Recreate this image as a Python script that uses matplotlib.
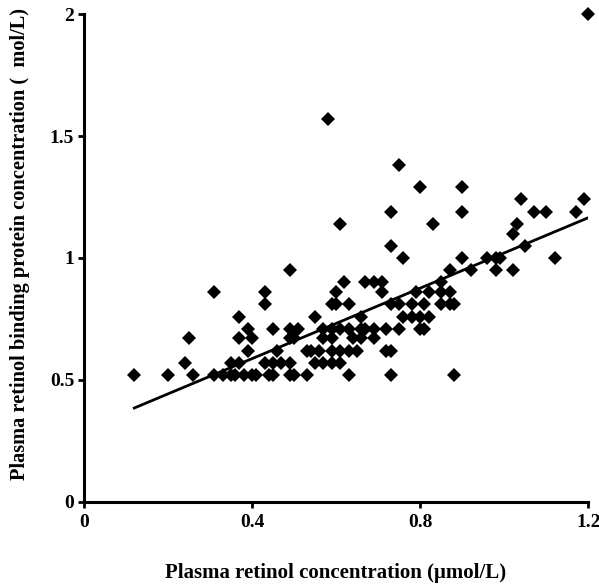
import numpy as np
import matplotlib
matplotlib.use("Agg")
import matplotlib.pyplot as plt

# retinol (x) values grouped by the RBP (y) level they sit on
rows = {
    0.52: [0.12, 0.20, 0.26, 0.31, 0.33, 0.35, 0.36, 0.38, 0.40, 0.41, 0.44, 0.45, 0.49, 0.50, 0.53, 0.63, 0.73, 0.88],
    0.57: [0.24, 0.35, 0.37, 0.43, 0.45, 0.47, 0.49, 0.55, 0.57, 0.59, 0.61],
    0.62: [0.39, 0.46, 0.53, 0.54, 0.56, 0.59, 0.61, 0.63, 0.65, 0.72, 0.73],
    0.67: [0.25, 0.37, 0.40, 0.49, 0.50, 0.57, 0.59, 0.64, 0.66, 0.69],
    0.71: [0.39, 0.45, 0.49, 0.51, 0.57, 0.59, 0.61, 0.63, 0.66, 0.67, 0.69, 0.72, 0.75, 0.80, 0.81],
    0.76: [0.37, 0.55, 0.66, 0.76, 0.78, 0.80, 0.82],
    0.81: [0.43, 0.59, 0.60, 0.63, 0.73, 0.75, 0.78, 0.81, 0.85, 0.87, 0.88],
    0.86: [0.31, 0.43, 0.60, 0.71, 0.79, 0.82, 0.85, 0.87],
    0.90: [0.62, 0.67, 0.69, 0.71, 0.85],
    0.95: [0.49, 0.87, 0.92, 0.98, 1.02],
    1.00: [0.76, 0.90, 0.96, 0.98, 0.99, 1.12],
    1.05: [0.73, 1.05],
    1.10: [1.02],
    1.14: [0.61, 0.83, 1.03],
    1.19: [0.73, 0.90, 1.07, 1.10, 1.17],
    1.24: [1.04, 1.19],
    1.29: [0.80, 0.90],
    1.38: [0.75],
    1.57: [0.58],
    2.00: [1.20],
}

retinol = []
rbp = []
for level, xs in rows.items():
    retinol += xs
    rbp += [level] * len(xs)

# regression line end points
fit_x = [0.12, 1.20]
fit_y = [0.385, 1.165]

xticks = [0, 0.4, 0.8, 1.2]
xticklabels = ["0", "0.4", "0.8", "1.2"]
yticks = [0, 0.5, 1, 1.5, 2]
yticklabels = ["0", "0.5", "1", "1.5", "2"]

plt.rcParams['font.family'] = ['Liberation Serif', 'DejaVu Serif']
plt.rcParams['font.weight'] = 'bold'

fig = plt.figure(figsize=(5.99, 5.85), dpi=100)
ax = fig.add_axes([0.140, 0.142, 0.842, 0.834])

ax.plot(retinol, rbp, linestyle='none', marker='D', markersize=7,
        color='black', markeredgewidth=0, clip_on=False)
ax.plot(fit_x, fit_y, color='black', linewidth=2)

ax.set_xlim(0, 1.2)
ax.set_ylim(0, 2)
ax.set_xticks(xticks)
ax.set_xticklabels(xticklabels)
ax.set_yticks(yticks)
ax.set_yticklabels(yticklabels)

for s in ['top', 'right']:
    ax.spines[s].set_visible(False)
for s in ['left', 'bottom']:
    ax.spines[s].set_linewidth(2.2)
ax.tick_params(axis='both', direction='out', length=4, width=2,
               labelsize=14, pad=3)
ax.tick_params(axis='x', pad=5)

ax.set_xlabel("Plasma retinol concentration (\u03bcmol/L)", fontsize=15,
              fontweight='bold', labelpad=23)
ax.set_ylabel("Plasma retinol binding protein concentration (  mol/L)",
              fontsize=14.7, fontweight='bold')
ax.yaxis.set_label_coords(-0.107, 0.529)

fig.savefig("out.png", dpi=100)
